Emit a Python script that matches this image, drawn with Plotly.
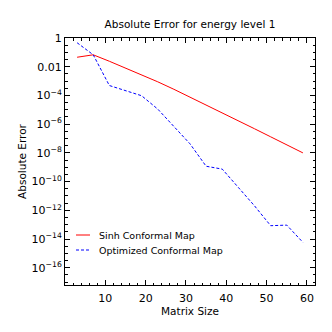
import plotly.graph_objects as go

matrix_size = [3, 7, 11, 15, 19, 23, 27, 31, 35, 39, 43, 47, 51, 55, 59]
sinh_err = [10**v for v in [-1.34, -1.17, -1.62, -2.08, -2.56, -3.05, -3.57, -4.11,
                            -4.65, -5.20, -5.76, -6.32, -6.88, -7.44, -8.00]]
opt_err = [10**v for v in [-0.33, -1.17, -3.31, -3.64, -4.02, -4.95, -6.13, -7.37,
                           -8.93, -9.13, -10.41, -11.69, -13.07, -13.03, -14.23]]
series_names = ["Sinh Conformal Map", "Optimized Conformal Map"]

ytick_vals = [10**(-k) for k in range(0, 17, 2)]
ytick_text = ["1", "0.01"] + ["10<sup>\u2212%d</sup>" % k for k in range(4, 17, 2)]

font = "DejaVu Sans"
colors = ["#ff0000", "#0000ff"]
dashes = ["solid", "3px,2px"]

fig = go.Figure()
fig.add_trace(go.Scatter(x=matrix_size, y=sinh_err, mode="lines",
                         name=series_names[0], showlegend=False,
                         line=dict(color=colors[0], width=1, dash=dashes[0])))
fig.add_trace(go.Scatter(x=matrix_size, y=opt_err, mode="lines",
                         name=series_names[1], showlegend=False,
                         line=dict(color=colors[1], width=1, dash=dashes[1])))

# legend (drawn inside the axes, lower left)
leg_y = [0.2024, 0.1417]
for name, c, d, yy in zip(series_names, colors, dashes, leg_y):
    fig.add_shape(type="line", xref="paper", yref="paper",
                  x0=0.044, x1=0.10, y0=yy, y1=yy,
                  line=dict(color=c, width=1, dash=d))
    fig.add_annotation(text=name, xref="paper", yref="paper", x=0.127, y=yy,
                       xanchor="left", yanchor="middle", showarrow=False,
                       font=dict(size=9.5))

fig.update_layout(
    width=332, height=332,
    margin=dict(l=65, r=17, t=38, b=47),
    paper_bgcolor="white", plot_bgcolor="white",
    font=dict(family=font, size=10, color="black"),
    title=dict(text="Absolute Error for energy level 1", xref="paper", x=0.5,
               xanchor="center", yref="paper", y=1, yanchor="bottom",
               pad=dict(b=10), font=dict(size=10.5)),
    showlegend=False,
)
fig.update_xaxes(
    range=[0, 62], showgrid=False, zeroline=False, automargin=False,
    showline=True, linecolor="black", linewidth=1, mirror="ticks",
    ticks="inside", ticklen=5, tickcolor="black", tickwidth=1,
    tickvals=[10, 20, 30, 40, 50, 60],
    tickfont=dict(size=11), ticklabelstandoff=3,
    minor=dict(ticks="inside", ticklen=2.5, dtick=2, tick0=0, tickcolor="black"),
    title=dict(text="Matrix Size", font=dict(size=10.5), standoff=1),
)
fig.update_yaxes(
    type="log", range=[-17.2, 0], showgrid=False, zeroline=False, automargin=False,
    showline=True, linecolor="black", linewidth=1, mirror="ticks",
    ticks="inside", ticklen=5, tickcolor="black", tickwidth=1,
    tickvals=ytick_vals, ticktext=ytick_text,
    tickfont=dict(size=11),
    minor=dict(ticks="inside", ticklen=2.5, dtick=0.5, tick0=0, tickcolor="black"),
    title=dict(text="Absolute Error", font=dict(size=10.5), standoff=2),
)

fig.write_html("out.html", config={"displayModeBar": False},
               post_script="document.body.style.margin='0px';")
